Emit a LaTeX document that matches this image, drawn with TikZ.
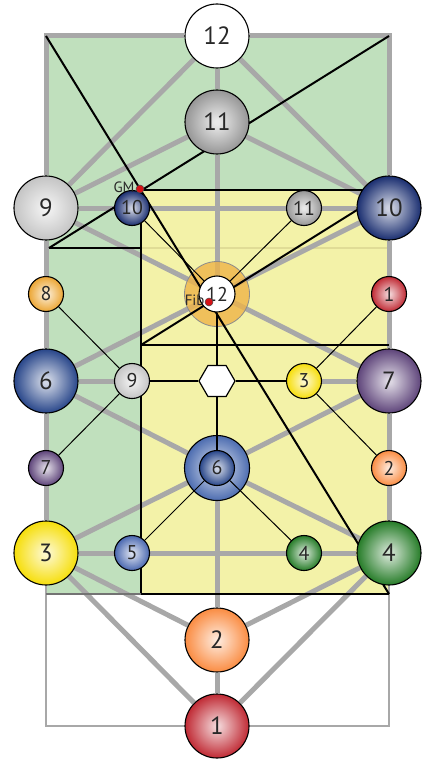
\documentclass[tikz,border=0pt]{standalone}
\usepackage{fontspec}
\setmainfont{PT Sans}
\usetikzlibrary{shapes.geometric,positioning}

\definecolor{leaf}{RGB}{192,224,189}
\definecolor{straw}{RGB}{243,242,168}
\definecolor{strawline}{RGB}{224,220,150}
\definecolor{bondgray}{RGB}{168,168,168}
\definecolor{numgray}{RGB}{40,40,40}
\definecolor{c11}{RGB}{150,150,150}
\definecolor{c9}{RGB}{196,196,196}
\definecolor{c10}{RGB}{26,46,112}
\definecolor{c8}{RGB}{236,166,52}
\definecolor{c1}{RGB}{192,42,52}
\definecolor{c6}{RGB}{40,70,138}
\definecolor{c6ring}{RGB}{76,108,176}
\definecolor{c3}{RGB}{246,222,10}
\definecolor{c7}{RGB}{94,68,122}
\definecolor{c2}{RGB}{250,140,66}
\definecolor{c5}{RGB}{74,104,176}
\definecolor{c4}{RGB}{38,124,40}
\definecolor{c12ring}{RGB}{238,180,72}
\definecolor{dotred}{RGB}{214,18,22}

\pgfdeclareradialshading[orbin,orbout]{orb}{\pgfpointorigin}{color(0bp)=(orbin); color(2bp)=(orbin); color(25bp)=(orbout); color(50bp)=(orbout)}
\pgfdeclarelayer{back}
\pgfdeclarelayer{bonds}
\pgfdeclarelayer{rings}
\pgfdeclarelayer{guides}
\pgfsetlayers{back,bonds,rings,guides,main}

\begin{document}
\begin{tikzpicture}[
  x=1bp, y=-1bp,
  ball/.style={circle,draw=black,line width=1.1bp,inner sep=0pt,text=numgray,shade,shading=orb,
    /utils/exec={\colorlet{orbout}{#1}\colorlet{orbin}{#1!22!white}}},
  big/.style={ball=#1,minimum size=64bp,font=\fontsize{25}{25}\selectfont},
  small/.style={ball=#1,minimum size=35bp,font=\fontsize{20}{20}\selectfont},
  bond/.style={draw=bondgray,line width=5bp},
  wire/.style={draw=black,line width=1bp},
  spoke/.style={draw=black,line width=1.6bp},
  guide/.style={draw=black,line width=2bp},
  dot/.style={circle,draw=black!70,line width=0.5bp,fill=dotred,minimum size=8bp,inner sep=0pt},
  tag/.style={inner sep=0pt,text=numgray,font=\fontsize{15}{15}\selectfont}
]
\useasboundingbox (0,0) rectangle (426,759);

\coordinate (nw) at (46,36);
\coordinate (ne) at (389,36);
\coordinate (sw) at (46,726);
\coordinate (se) at (389,726);
\coordinate (gsw) at (46,594);
\coordinate (gse) at (389,594);
\coordinate (ynw) at (141,190);
\coordinate (yne) at (389,190);
\coordinate (ysw) at (141,594);
\coordinate (ymid) at (141,345);
\coordinate (ymide) at (389,345);
\coordinate (kink) at (49,248);
\coordinate (kinke) at (141,248);

% spheres
\node[big=white] (top12) at (217,36) {12};
\node[big=c11] (big11) at (217,122) {11};
\node[big=c9] (big9) at (46,208) {9};
\node[small=c10] (sm10) at (132,208) {10};
\node[small=c11] (sm11) at (304,208) {11};
\node[big=c10] (big10) at (389,208) {10};
\node[small=c8] (sm8) at (46,294) {8};
\node[small=c1] (sm1) at (389,294) {1};
\node[big=c6] (big6) at (46,381) {6};
\node[small=c9] (sm9) at (132,381) {9};
\node[regular polygon,regular polygon sides=6,draw=black,line width=1.2bp,fill=white,
  minimum size=36bp,inner sep=0pt] (hex) at (217,381) {};
\node[small=c3] (sm3) at (304,381) {3};
\node[big=c7] (big7) at (389,381) {7};
\node[small=c7] (sm7) at (46,468) {7};
\node[small=c2] (sm2) at (389,468) {2};
\node[big=c3] (big3) at (46,553) {3};
\node[small=c5] (sm5) at (132,553) {5};
\node[small=c4] (sm4) at (304,553) {4};
\node[big=c4] (big4) at (389,553) {4};
\node[big=c2] (big2) at (217,640) {2};
\node[big=c1] (big1) at (217,726) {1};
\node[circle,draw=black,line width=1.1bp,fill=white,minimum size=36bp,inner sep=0pt,text=numgray,
  font=\fontsize{20}{20}\selectfont] (in12) at (217,294) {12};
\node[small=c6] (in6) at (217,468) {6};

\node[dot] (gmdot) at (140,189) {};
\node[tag,left=1bp of gmdot,yshift=2bp] (gmtag) {GM};
\node[dot] (fibdot) at (209,302) {};
\node[tag,left=0bp of fibdot,yshift=2bp] (fibtag) {Fib};

\begin{pgfonlayer}{rings}
\node[circle,draw=black!45,line width=0.8bp,fill=c12ring,fill opacity=0.8,
  minimum size=65bp,inner sep=0pt] (ring12) at (217,294) {};
\node[ball=c6ring,minimum size=65bp] (ring6) at (217,468) {};
\end{pgfonlayer}

\begin{pgfonlayer}{back}
\fill[white] (0,0) rectangle (426,759);
\fill[leaf] (nw) rectangle (gse);
\fill[straw] (ynw) rectangle (gse);
\draw[strawline,line width=2bp] (kinke) -- (389,248);
\draw[bondgray,line width=2.5bp] (nw) rectangle (se);
\end{pgfonlayer}

\begin{pgfonlayer}{bonds}
\draw[bond] (big9) -- (nw) -- (top12) -- (ne) -- (big10);
\draw[bond] (top12) -- (big11);
\draw[bond] (top12) -- (big9);
\draw[bond] (top12) -- (big10);
\draw[bond] (big11) -- (big9);
\draw[bond] (big11) -- (big10);
\draw[bond] (big11) -- (ring12.center);
\draw[bond] (big9) -- (sm10) -- (sm11) -- (big10);
\draw[bond] (big9) -- (ring12.center);
\draw[bond] (big10) -- (ring12.center);
\draw[bond] (big9) -- (sm8) -- (big6) -- (sm7) -- (big3);
\draw[bond] (big10) -- (sm1) -- (big7) -- (sm2) -- (big4);
\draw[bond] (ring12.center) -- (big6);
\draw[bond] (ring12.center) -- (big7);
\draw[bond] (big6) -- (sm9);
\draw[bond] (sm3) -- (big7);
\draw[bond] (big6) -- (ring6);
\draw[bond] (big7) -- (ring6);
\draw[bond] (big3) -- (ring6);
\draw[bond] (big4) -- (ring6);
\draw[bond] (big3) -- (sm5) -- (sm4) -- (big4);
\draw[bond] (ring6) -- (big2) -- (big1);
\draw[bond] (big3) -- (big2);
\draw[bond] (big3) -- (big1);
\draw[bond] (big4) -- (big2);
\draw[bond] (big4) -- (big1);
\end{pgfonlayer}

\begin{pgfonlayer}{guides}
\draw[guide] (ynw) -- (yne);
\draw[guide] (ynw) -- (ysw) -- (gse);
\draw[guide] (ymid) -- (ymide);
\draw[guide] (kink) -- (kinke);
\draw[guide] (kink) -- (ne);
\draw[guide] (nw) -- (gse);
\draw[guide] (ymid) -- (yne);
\draw[draw=black!55,line width=2bp] (gsw) -- (ysw);
\draw[wire] (sm8) -- (sm9) -- (sm7);
\draw[wire] (sm1) -- (sm3) -- (sm2);
\draw[wire] (sm10) -- (in12);
\draw[wire] (sm11) -- (in12);
\draw[wire] (in6) -- (sm5);
\draw[wire] (in6) -- (sm4);
\draw[spoke] (sm9) -- (hex) -- (sm3);
\draw[spoke] (in12) -- (hex) -- (in6);
\end{pgfonlayer}
\end{tikzpicture}
\end{document}
